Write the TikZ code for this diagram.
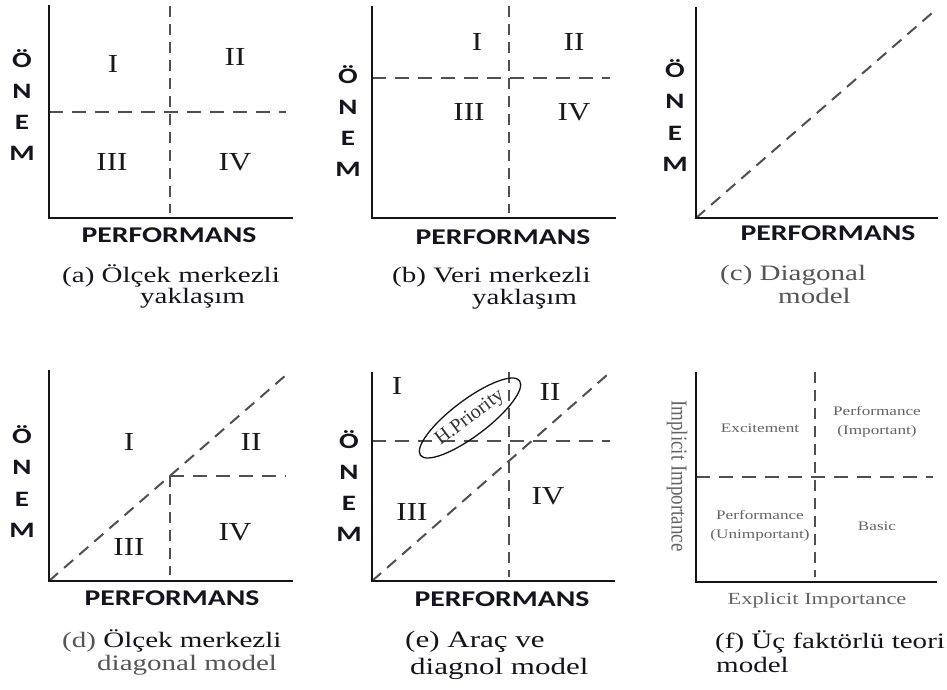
\documentclass[tikz,border=0pt]{standalone}
\usepackage{fontspec}
\usepackage{graphicx}
\usetikzlibrary{shapes.geometric}

% Fonts: bold sans for axis names, serif for captions and quadrant numbers
\newfontfamily\axisfont[FakeStretch=1.32]{Carlito}
\newfontfamily\capfont[FakeStretch=1.32]{Liberation Serif}
\newfontfamily\romfont[FakeStretch=1.2]{Liberation Serif}
\newfontfamily\plainserif{Liberation Serif}

\definecolor{ink}{RGB}{20,20,30}
\definecolor{dashgray}{RGB}{80,80,80}
\definecolor{softgray}{RGB}{85,85,85}
\definecolor{labgray}{RGB}{100,100,100}

\tikzset{
  axisline/.style={line width=2.8pt, draw=ink, line join=miter},
  hdash/.style={line width=2.2pt, draw=dashgray, dash pattern=on 14pt off 9pt},
  vdash/.style={line width=2.2pt, draw=dashgray, dash pattern=on 11pt off 7pt},
  ddash/.style={line width=2pt, draw=dashgray, dash pattern=on 12pt off 8pt},
  onem/.style={font=\axisfont\bfseries\fontsize{22}{31.3}\selectfont, align=center, inner sep=0pt, text=ink},
  perf/.style={font=\axisfont\bfseries\fontsize{22.5}{26}\selectfont, inner sep=0pt, text=ink},
  quadlab/.style={font=\romfont\fontsize{26}{30}\selectfont, inner sep=0pt, text=black!90},
  capline/.style={font=\capfont\fontsize{22}{26}\selectfont, inner sep=0pt, anchor=base west, text=ink},
  tinylab/.style={font=\capfont\fontsize{13}{19}\selectfont, inner sep=0pt, align=center, text=labgray},
}

\begin{document}
\begin{tikzpicture}[x=1pt, y=-1pt]
\fill[white] (0,0) rectangle (947,690);
\useasboundingbox (0,0) rectangle (947,690);

% ---------- (a) scale-centred quadrants ----------
\coordinate (a-o) at (49,218);
\coordinate (a-y) at (49,5);
\coordinate (a-x) at (293,218);
\coordinate (a-vt) at (170,6);
\coordinate (a-vb) at (170,213);
\coordinate (a-hl) at (49,112);
\coordinate (a-hr) at (286,112);
\draw[vdash] (a-vt) -- (a-vb);
\draw[hdash] (a-hl) -- (a-hr);
\draw[axisline] (a-y) -- (a-o) -- (a-x);
\node[onem] (a-ylab) at (22,105) {Ö\\N\\E\\M};
\node[perf] (a-xlab) at (169,235) {PERFORMANS};
\node[quadlab] (a-q1) at (113,64) {I};
\node[quadlab] (a-q2) at (235,57) {II};
\node[quadlab] (a-q3) at (112,162) {III};
\node[quadlab] (a-q4) at (235,162) {IV};
\node[capline] (a-c1) at (62,282) {(a) Ölçek merkezli};
\node[capline] (a-c2) at (140,303) {yaklaşım};

% ---------- (b) data-centred quadrants ----------
\coordinate (b-o) at (372,218);
\coordinate (b-y) at (372,6);
\coordinate (b-x) at (616,218);
\coordinate (b-vt) at (509,6);
\coordinate (b-vb) at (509,213);
\coordinate (b-hl) at (372,78);
\coordinate (b-hr) at (610,78);
\draw[vdash] (b-vt) -- (b-vb);
\draw[hdash] (b-hl) -- (b-hr);
\draw[axisline] (b-y) -- (b-o) -- (b-x);
\node[onem] (b-ylab) at (348,121) {Ö\\N\\E\\M};
\node[perf] (b-xlab) at (503,237) {PERFORMANS};
\node[quadlab] (b-q1) at (477,42) {I};
\node[quadlab] (b-q2) at (574,42) {II};
\node[quadlab] (b-q3) at (469,112) {III};
\node[quadlab] (b-q4) at (574,112) {IV};
\node[capline] (b-c1) at (392,282) {(b) Veri merkezli};
\node[capline] (b-c2) at (472,304) {yaklaşım};

% ---------- (c) diagonal model ----------
\coordinate (c-o) at (696,218);
\coordinate (c-y) at (696,7);
\coordinate (c-x) at (938,218);
\coordinate (c-d) at (932,13);
\draw[ddash] (c-o) -- (c-d);
\draw[axisline] (c-y) -- (c-o) -- (c-x);
\node[onem] (c-ylab) at (675,115.5) {Ö\\N\\E\\M};
\node[perf] (c-xlab) at (828,233) {PERFORMANS};
\node[capline, text=softgray] (c-c1) at (720,280) {(c) Diagonal};
\node[capline, text=softgray] (c-c2) at (778,303) {model};

% ---------- (d) scale-centred diagonal model ----------
\coordinate (d-o) at (49,581);
\coordinate (d-y) at (49,370);
\coordinate (d-x) at (293,581);
\coordinate (d-d) at (286,375);
\coordinate (d-m) at (170,476);
\coordinate (d-hr) at (286,476);
\coordinate (d-vb) at (170,575);
\draw[ddash] (d-o) -- (d-d);
\draw[hdash] (d-m) -- (d-hr);
\draw[vdash] (d-m) -- (d-vb);
\draw[axisline] (d-y) -- (d-o) -- (d-x);
\node[onem] (d-ylab) at (22,481.5) {Ö\\N\\E\\M};
\node[perf] (d-xlab) at (172,598) {PERFORMANS};
\node[quadlab] (d-q1) at (129,442) {I};
\node[quadlab] (d-q2) at (251,442) {II};
\node[quadlab] (d-q3) at (129,547) {III};
\node[quadlab] (d-q4) at (235,532) {IV};
\node[capline] (d-c1) at (62,647) {{\color{softgray}(d)} Ölçek merkezli};
\node[capline, text=softgray] (d-c2) at (97,670) {diagonal model};

% ---------- (e) tool and diagonal model ----------
\coordinate (e-o) at (372,581);
\coordinate (e-y) at (372,372);
\coordinate (e-x) at (615,581);
\coordinate (e-vt) at (509,372);
\coordinate (e-vb) at (509,577);
\coordinate (e-hl) at (372,441);
\coordinate (e-hr) at (610,441);
\coordinate (e-d) at (607,375);
\draw[vdash] (e-vt) -- (e-vb);
\draw[hdash] (e-hl) -- (e-hr);
\draw[ddash] (e-o) -- (e-d);
\draw[axisline] (e-y) -- (e-o) -- (e-x);
\node[draw=ink, line width=1.3pt, ellipse, rotate=37, minimum width=124pt, minimum height=36pt,
      inner sep=0pt, font=\plainserif\fontsize{20}{24}\selectfont, text=black!80] (e-hp) at (470,418) {H.Priority};
\node[onem] (e-ylab) at (349,486) {Ö\\N\\E\\M};
\node[perf] (e-xlab) at (502,599) {PERFORMANS};
\node[quadlab] (e-q1) at (397,386) {I};
\node[quadlab] (e-q2) at (550,392) {II};
\node[quadlab] (e-q3) at (412,512) {III};
\node[quadlab] (e-q4) at (548,496) {IV};
\node[capline, font=\capfont\fontsize{23.5}{26}\selectfont] (e-c1) at (405,647) {(e) Araç ve};
\node[capline, font=\capfont\fontsize{23.5}{26}\selectfont] (e-c2) at (410,674) {diagnol model};

% ---------- (f) three-factor theory model ----------
\coordinate (f-o) at (696,582);
\coordinate (f-y) at (696,372);
\coordinate (f-x) at (937,582);
\coordinate (f-vt) at (815,372);
\coordinate (f-vb) at (815,577);
\coordinate (f-hl) at (696,477);
\coordinate (f-hr) at (933,477);
\draw[vdash] (f-vt) -- (f-vb);
\draw[hdash] (f-hl) -- (f-hr);
\draw[axisline] (f-y) -- (f-o) -- (f-x);
\node[tinylab] (f-q1) at (760,428) {Excitement};
\node[tinylab] (f-q2) at (877,422) {Performance\\(Important)};
\node[tinylab] (f-q3) at (760,526) {Performance\\(Unimportant)};
\node[tinylab] (f-q4) at (877,526) {Basic};
\node[inner sep=0pt, rotate=-90, text=labgray, font=\plainserif\fontsize{19}{22}\selectfont] (f-ylab) at (677,476)
      {\scalebox{1}[1.2]{Implicit Importance}};
\node[inner sep=0pt, text=labgray, font=\capfont\fontsize{17}{20}\selectfont] (f-xlab) at (817,600) {Explicit Importance};
\node[capline] (f-c1) at (715,648) {(f) Üç faktörlü teori};
\node[capline] (f-c2) at (716,672) {model};
\end{tikzpicture}
\end{document}
